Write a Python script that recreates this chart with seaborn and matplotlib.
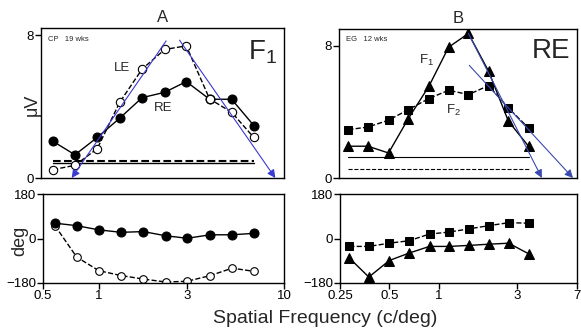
import matplotlib
matplotlib.use("Agg")
import matplotlib.pyplot as plt
import seaborn as sns
import pandas as pd

# panel A (CP, 19 wks)
freq_a = [0.58, 0.76, 1.0, 1.32, 1.74, 2.3, 3.0, 4.0, 5.25, 6.9]
amp_re = [2.05, 1.30, 2.27, 3.35, 4.5, 4.8, 5.4, 4.41, 4.41, 2.94]
amp_le = [0.47, 0.71, 1.64, 4.24, 6.1, 7.2, 7.4, 4.43, 3.68, 2.27]
phase_re = [62, 52, 35, 25, 28, 11, 1, 15, 15, 21]
phase_le = [52, -75, -130, -150, -164, -176, -173, -150, -120, -133]
noise_a_x = [0.58, 6.9]
noise_a_dashed = 0.97
noise_a_solid = 0.84
fit_a = [((2.34, 7.68), (0.73, 0.0)), ((2.76, 7.72), (9.0, 0.0))]

# panel B (EG, 12 wks, RE)
freq_b = [0.285, 0.375, 0.5, 0.66, 0.88, 1.16, 1.53, 2.03, 2.68, 3.55]
amp_f1 = [1.92, 1.92, 1.51, 3.59, 5.54, 7.9, 8.73, 6.45, 3.43, 1.92]
amp_f2 = [2.92, 3.08, 3.49, 4.13, 4.8, 5.3, 5.04, 5.58, 4.23, 3.02]
phase_f1 = [-79, -156, -89, -59, -32, -32, -28, -23, -19, -62]
phase_f2 = [-32, -32, -19, -9, 18, 26, 39, 52, 64, 62]
noise_b_x = [0.285, 3.55]
noise_b_solid = 1.25
noise_b_dashed = 0.54
fit_b = [((1.53, 8.73), (4.28, 0.0)), ((1.55, 6.8), (6.62, 0.0))]

sns.set_style("ticks")
plt.rcParams['font.family'] = ['Liberation Sans', 'DejaVu Sans']

fig = plt.figure(figsize=(5.81, 3.28), dpi=100)
ax_a = fig.add_axes([0.0706, 0.4573, 0.418, 0.4573])
ax_ap = fig.add_axes([0.0740, 0.1372, 0.4148, 0.2713])
ax_b = fig.add_axes([0.5835, 0.4573, 0.4096, 0.4543])
ax_bp = fig.add_axes([0.5852, 0.1372, 0.4079, 0.2713])

line_kw = dict(color='k', lw=1.0, sort=False, legend=False)
filled = dict(marker='o', markersize=6.5, markerfacecolor='k', markeredgecolor='k')
opened = dict(marker='o', markersize=6, markerfacecolor='white', markeredgecolor='k',
              markeredgewidth=0.8)
opened_small = dict(opened, markersize=5.5)
tri = dict(marker='^', markersize=6.5, markerfacecolor='k', markeredgecolor='k')
sq = dict(marker='s', markersize=5.8, markerfacecolor='k', markeredgecolor='k')

df_a = pd.DataFrame({'f': freq_a, 're': amp_re, 'le': amp_le,
                     'pre': phase_re, 'ple': phase_le})
df_b = pd.DataFrame({'f': freq_b, 'f1': amp_f1, 'f2': amp_f2,
                     'p1': phase_f1, 'p2': phase_f2})

# amplitude A
ax_a.plot(noise_a_x, [noise_a_dashed] * 2, color='k', ls='--', lw=1.5)
ax_a.plot(noise_a_x, [noise_a_solid] * 2, color='k', ls='-', lw=1.0)
sns.lineplot(data=df_a, x='f', y='le', ax=ax_a, linestyle='--', zorder=3, **line_kw, **opened)
sns.lineplot(data=df_a, x='f', y='re', ax=ax_a, linestyle='-', zorder=2, **line_kw, **filled)
for (x0, y0), (x1, y1) in fit_a:
    ax_a.annotate('', xy=(x1, y1), xytext=(x0, y0),
                  arrowprops=dict(arrowstyle='-|>', color='#3a3ad0', lw=0.8,
                                  mutation_scale=12, shrinkA=0, shrinkB=0))

# amplitude B
ax_b.plot(noise_b_x, [noise_b_solid] * 2, color='k', ls='-', lw=0.8)
ax_b.plot(noise_b_x, [noise_b_dashed] * 2, color='k', ls='--', lw=0.8)
sns.lineplot(data=df_b, x='f', y='f2', ax=ax_b, linestyle='--', **line_kw, **sq)
sns.lineplot(data=df_b, x='f', y='f1', ax=ax_b, linestyle='-', **line_kw, **tri)
for (x0, y0), (x1, y1) in fit_b:
    ax_b.annotate('', xy=(x1, y1), xytext=(x0, y0),
                  arrowprops=dict(arrowstyle='-|>', color='#3a4ab0', lw=0.8,
                                  mutation_scale=12, shrinkA=0, shrinkB=0))

# phase A
sns.lineplot(data=df_a, x='f', y='ple', ax=ax_ap, linestyle='--', **line_kw, **opened_small)
sns.lineplot(data=df_a, x='f', y='pre', ax=ax_ap, linestyle='-', **line_kw, **filled)

# phase B
sns.lineplot(data=df_b, x='f', y='p2', ax=ax_bp, linestyle='--', **line_kw, **sq)
sns.lineplot(data=df_b, x='f', y='p1', ax=ax_bp, linestyle='-', **line_kw, **tri)

for ax in (ax_a, ax_ap):
    ax.set_xscale('log')
    ax.set_xlim(0.5, 10)
for ax in (ax_b, ax_bp):
    ax.set_xscale('log')
    ax.set_xlim(0.25, 7)

ax_a.set_ylim(0, 8.4)
ax_b.set_ylim(0, 9.0)
for ax in (ax_a, ax_b):
    ax.set_yticks([0, 8])
    ax.set_xticks([])
    ax.minorticks_off()
    ax.set_xlabel('')
    ax.set_ylabel('')
for ax in (ax_ap, ax_bp):
    ax.set_ylim(-180, 180)
    ax.set_yticks([-180, 0, 180])
    ax.minorticks_off()
    ax.set_xlabel('')
    ax.set_ylabel('')
ax_ap.set_xticks([0.5, 1, 3, 10])
ax_ap.set_xticklabels(['0.5', '1', '3', '10'])
ax_bp.set_xticks([0.25, 0.5, 1, 3, 7])
ax_bp.set_xticklabels(['0.25', '0.5', '1', '3', '7'])

for ax in (ax_a, ax_ap, ax_b, ax_bp):
    for s in ax.spines.values():
        s.set_linewidth(1.0)
        s.set_color('k')
    ax.tick_params(direction='out', length=4, width=1.0, labelsize=9.5, pad=1,
                   colors='k')

# text
ax_a.set_title('A', fontsize=12, pad=4)
ax_b.set_title('B', fontsize=12, pad=4)
fig.text(0.056, 0.68, 'μV', rotation=90, fontsize=13, ha='center', va='center')
fig.text(0.034, 0.265, 'deg', rotation=90, fontsize=13, ha='center', va='center')
fig.text(0.559, 0.03, 'Spatial Frequency (c/deg)', fontsize=14, ha='center', va='center')

ax_a.text(0.03, 0.95, 'CP   19 wks', transform=ax_a.transAxes, fontsize=5.5, va='top')
ax_a.text(0.97, 0.93, r'$\mathregular{F_1}$', transform=ax_a.transAxes, fontsize=20,
          ha='right', va='top')
ax_a.text(1.36, 6.15, 'LE', fontsize=9.5, ha='center', va='center')
ax_a.text(2.26, 3.9, 'RE', fontsize=9.5, ha='center', va='center')

ax_b.text(0.03, 0.95, 'EG   12 wks', transform=ax_b.transAxes, fontsize=5.5, va='top')
ax_b.text(0.97, 0.94, 'RE', transform=ax_b.transAxes, fontsize=20, ha='right', va='top')
ax_b.text(0.85, 7.1, r'$\mathregular{F_1}$', fontsize=9.5, ha='center', va='center')
ax_b.text(1.25, 4.1, r'$\mathregular{F_2}$', fontsize=9.5, ha='center', va='center')

fig.savefig('out.png', dpi=100)
